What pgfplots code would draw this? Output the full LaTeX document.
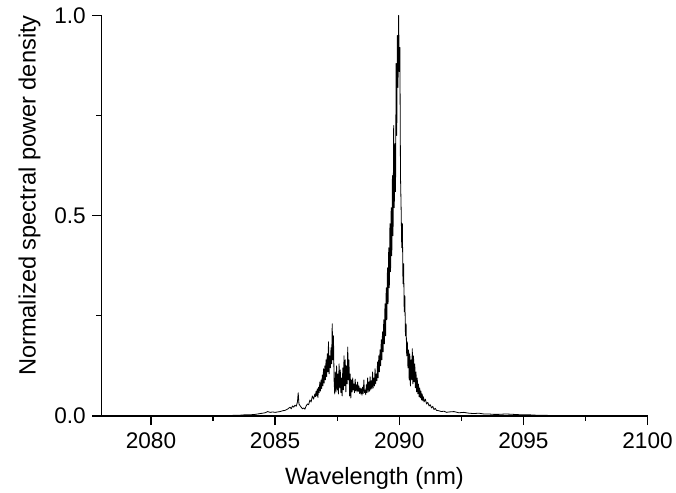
\documentclass[border=0pt]{standalone}
\usepackage{fontspec}
\setmainfont{Liberation Sans}
\usepackage{pgfplots}
\pgfplotsset{compat=1.18}
\begin{document}
\begin{tikzpicture}
\begin{axis}[
  scale only axis,
  width=544pt, height=399pt,
  xmin=2078, xmax=2100,
  ymin=0, ymax=1,
  axis x line*=bottom,
  axis y line*=left,
  axis line style={line width=1.3pt, -},
  tick align=outside,
  xtick={2080,2085,2090,2095,2100},
  minor xtick={2082.5,2087.5,2092.5,2097.5},
  ytick={0,0.5,1},
  minor ytick={0.25,0.75},
  yticklabels={0.0,0.5,1.0},
  major tick length=9pt,
  minor tick length=5pt,
  every tick/.style={line width=1.3pt, black},
  /pgf/number format/assume math mode=true,
  /pgf/number format/1000 sep={},
  tick label style={font=\fontsize{22.5}{27}\selectfont},
  xticklabel style={yshift=-4pt},
  yticklabel style={xshift=-3pt},
  label style={font=\fontsize{23.5}{28}\selectfont},
  xlabel={Wavelength (nm)},
  ylabel={Normalized spectral power density},
  xlabel style={yshift=-12pt},
  ylabel style={at={(ticklabel cs:0.55)}, yshift=7pt},
  clip=false,
]
\addplot[black, line width=0.8pt, line join=round] coordinates {
(2083.2,0.001)(2083.4,0.002)(2083.6,0.002)(2083.8,0.003)(2084.0,0.003)(2084.2,0.004)(2084.4,0.006)(2084.6,0.008)(2084.7,0.011)(2084.8,0.009)(2084.9,0.010)(2085.0,0.009)(2085.1,0.010)(2085.2,0.011)(2085.3,0.013)(2085.4,0.014)(2085.5,0.017)(2085.6,0.022)(2085.65,0.018)(2085.7,0.025)(2085.75,0.022)(2085.8,0.027)(2085.85,0.024)(2085.9,0.035)(2085.93,0.058)(2085.96,0.030)(2086.0,0.026)(2086.05,0.022)(2086.1,0.018)(2086.15,0.020)(2086.2,0.017)(2086.25,0.025)(2086.3,0.030)(2086.35,0.028)(2086.4,0.040)(2086.45,0.035)(2086.5,0.050)(2086.55,0.042)
(2086.600,0.055)(2086.625,0.048)(2086.650,0.062)(2086.675,0.050)(2086.700,0.068)(2086.725,0.046)(2086.750,0.072)(2086.775,0.058)(2086.800,0.085)(2086.825,0.062)(2086.850,0.090)(2086.875,0.068)(2086.900,0.102)(2086.925,0.075)(2086.950,0.118)(2086.975,0.082)
(2087.000,0.125)(2087.025,0.090)(2087.050,0.140)(2087.075,0.098)(2087.100,0.155)(2087.125,0.110)(2087.150,0.185)(2087.175,0.105)(2087.200,0.150)(2087.225,0.120)(2087.250,0.170)(2087.275,0.130)(2087.300,0.230)(2087.325,0.140)(2087.350,0.200)(2087.375,0.090)(2087.400,0.055)(2087.425,0.110)(2087.450,0.060)(2087.475,0.125)(2087.500,0.065)(2087.525,0.105)(2087.550,0.055)(2087.575,0.130)(2087.600,0.070)(2087.625,0.115)(2087.650,0.058)(2087.675,0.095)(2087.700,0.050)(2087.725,0.120)(2087.750,0.065)(2087.775,0.150)(2087.800,0.075)(2087.825,0.140)(2087.850,0.060)(2087.875,0.125)(2087.900,0.080)(2087.925,0.172)(2087.950,0.090)(2087.975,0.140)
(2088.000,0.050)(2088.025,0.105)(2088.050,0.045)(2088.075,0.090)(2088.100,0.060)(2088.125,0.095)(2088.150,0.065)(2088.175,0.080)(2088.200,0.058)(2088.225,0.092)(2088.250,0.063)(2088.275,0.078)(2088.300,0.060)(2088.325,0.085)(2088.350,0.062)(2088.375,0.075)(2088.400,0.056)(2088.425,0.070)(2088.450,0.055)(2088.475,0.068)(2088.500,0.052)(2088.525,0.072)(2088.550,0.056)(2088.575,0.090)(2088.600,0.058)(2088.625,0.065)(2088.650,0.053)(2088.675,0.078)(2088.700,0.058)(2088.725,0.095)(2088.750,0.060)(2088.775,0.085)(2088.800,0.062)(2088.825,0.098)(2088.850,0.065)(2088.875,0.088)(2088.900,0.068)(2088.925,0.110)(2088.950,0.070)(2088.975,0.095)
(2089.000,0.075)(2089.025,0.118)(2089.050,0.080)(2089.075,0.105)(2089.100,0.088)(2089.125,0.135)(2089.150,0.095)(2089.175,0.150)(2089.200,0.110)(2089.225,0.165)(2089.250,0.125)(2089.275,0.190)(2089.300,0.140)(2089.325,0.210)(2089.350,0.160)(2089.375,0.240)(2089.400,0.180)(2089.425,0.280)(2089.450,0.200)(2089.475,0.320)(2089.500,0.240)(2089.525,0.370)(2089.550,0.280)(2089.575,0.420)(2089.600,0.320)(2089.625,0.480)(2089.650,0.360)(2089.675,0.520)(2089.700,0.400)(2089.725,0.600)(2089.750,0.450)(2089.775,0.725)(2089.800,0.520)(2089.825,0.680)(2089.850,0.560)(2089.875,0.880)(2089.900,0.700)(2089.925,0.950)(2089.950,0.820)(2089.975,1.000)
(2090.000,0.860)(2090.025,0.920)(2090.050,0.600)(2090.075,0.520)(2090.100,0.420)(2090.125,0.480)(2090.150,0.330)(2090.175,0.380)(2090.200,0.260)(2090.225,0.300)(2090.250,0.200)(2090.275,0.230)(2090.300,0.150)(2090.325,0.185)(2090.350,0.120)(2090.375,0.165)(2090.400,0.090)(2090.425,0.155)(2090.450,0.075)(2090.475,0.140)(2090.500,0.090)(2090.525,0.168)(2090.550,0.080)(2090.575,0.150)(2090.600,0.085)(2090.625,0.130)(2090.650,0.070)(2090.675,0.110)(2090.700,0.060)(2090.725,0.095)(2090.750,0.055)(2090.775,0.080)(2090.800,0.048)(2090.825,0.070)(2090.850,0.045)(2090.875,0.062)(2090.900,0.040)(2090.925,0.055)(2090.950,0.038)(2090.975,0.048)
(2091.000,0.035)(2091.05,0.042)(2091.1,0.030)(2091.15,0.034)(2091.2,0.025)(2091.25,0.028)(2091.3,0.020)(2091.35,0.024)(2091.4,0.016)(2091.45,0.019)(2091.5,0.014)(2091.6,0.013)(2091.7,0.011)(2091.8,0.012)(2091.9,0.009)(2092.0,0.010)(2092.2,0.011)(2092.4,0.008)(2092.6,0.009)(2092.8,0.007)(2093.0,0.006)(2093.2,0.007)(2093.4,0.005)(2093.6,0.005)(2093.8,0.004)(2094.0,0.004)(2094.3,0.005)(2094.6,0.004)(2094.9,0.003)(2095.2,0.003)(2095.5,0.002)(2095.8,0.002)(2096.1,0.001)(2096.5,0.001)(2097.0,0.000)
};
\end{axis}
\path ([xshift=-15pt]current bounding box.south west) rectangle ([yshift=4pt]current bounding box.north east);
\end{tikzpicture}
\end{document}
